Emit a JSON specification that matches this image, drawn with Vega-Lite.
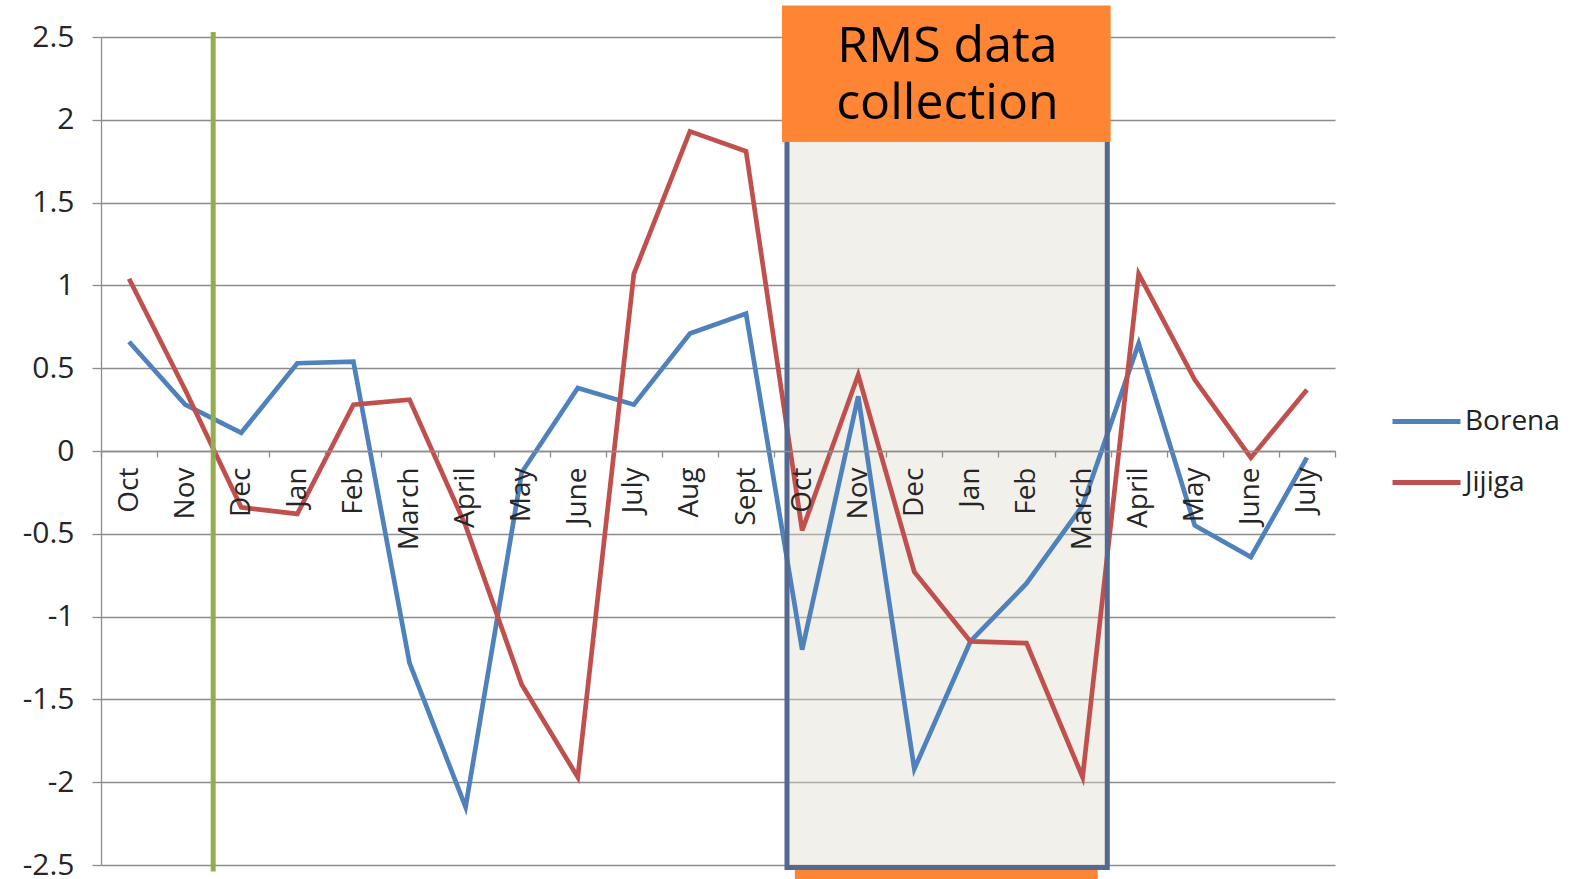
{
  "$schema": "https://vega.github.io/schema/vega-lite/v6.json",
  "width": 1234,
  "height": 828,
  "autosize": {"type": "none"},
  "padding": {"left": 101, "top": 37, "right": 236, "bottom": 14},
  "background": "white",
  "config": {"view": {"stroke": null}, "font": "Open Sans"},
  "datasets": {
    "one": [{"k": "annotation"}]
  },
  "layer": [
    {
      "data": {"name": "one"},
      "mark": {"type": "rect", "fill": "#DEDACA", "fillOpacity": 0.4, "strokeWidth": 0},
      "encoding": {
        "x": {"datum": "Oct-2", "bandPosition": 0.23, "type": "nominal", "scale": {"type": "band", "paddingInner": 0, "paddingOuter": 0}},
        "x2": {"datum": "March-2", "bandPosition": 0.94},
        "y": {"datum": 2.3, "type": "quantitative"},
        "y2": {"datum": -2.515}
      }
    },
    {
      "data": {"values": [
        {"m": "Oct-1", "s": "Borena", "v": 0.66}, {"m": "Nov-1", "s": "Borena", "v": 0.28}, {"m": "Dec-1", "s": "Borena", "v": 0.11},
        {"m": "Jan-1", "s": "Borena", "v": 0.53}, {"m": "Feb-1", "s": "Borena", "v": 0.54}, {"m": "March-1", "s": "Borena", "v": -1.28},
        {"m": "April-1", "s": "Borena", "v": -2.15}, {"m": "May-1", "s": "Borena", "v": -0.13}, {"m": "June-1", "s": "Borena", "v": 0.38},
        {"m": "July-1", "s": "Borena", "v": 0.28}, {"m": "Aug-1", "s": "Borena", "v": 0.71}, {"m": "Sept-1", "s": "Borena", "v": 0.83},
        {"m": "Oct-2", "s": "Borena", "v": -1.2}, {"m": "Nov-2", "s": "Borena", "v": 0.33}, {"m": "Dec-2", "s": "Borena", "v": -1.92},
        {"m": "Jan-2", "s": "Borena", "v": -1.15}, {"m": "Feb-2", "s": "Borena", "v": -0.8}, {"m": "March-2", "s": "Borena", "v": -0.33},
        {"m": "April-2", "s": "Borena", "v": 0.65}, {"m": "May-2", "s": "Borena", "v": -0.45}, {"m": "June-2", "s": "Borena", "v": -0.64},
        {"m": "July-2", "s": "Borena", "v": -0.04},
        {"m": "Oct-1", "s": "Jijiga", "v": 1.04}, {"m": "Nov-1", "s": "Jijiga", "v": 0.37}, {"m": "Dec-1", "s": "Jijiga", "v": -0.34},
        {"m": "Jan-1", "s": "Jijiga", "v": -0.38}, {"m": "Feb-1", "s": "Jijiga", "v": 0.28}, {"m": "March-1", "s": "Jijiga", "v": 0.31},
        {"m": "April-1", "s": "Jijiga", "v": -0.45}, {"m": "May-1", "s": "Jijiga", "v": -1.41}, {"m": "June-1", "s": "Jijiga", "v": -1.97},
        {"m": "July-1", "s": "Jijiga", "v": 1.07}, {"m": "Aug-1", "s": "Jijiga", "v": 1.93}, {"m": "Sept-1", "s": "Jijiga", "v": 1.81},
        {"m": "Oct-2", "s": "Jijiga", "v": -0.48}, {"m": "Nov-2", "s": "Jijiga", "v": 0.46}, {"m": "Dec-2", "s": "Jijiga", "v": -0.73},
        {"m": "Jan-2", "s": "Jijiga", "v": -1.15}, {"m": "Feb-2", "s": "Jijiga", "v": -1.16}, {"m": "March-2", "s": "Jijiga", "v": -1.97},
        {"m": "April-2", "s": "Jijiga", "v": 1.07}, {"m": "May-2", "s": "Jijiga", "v": 0.43}, {"m": "June-2", "s": "Jijiga", "v": -0.04},
        {"m": "July-2", "s": "Jijiga", "v": 0.37}
      ]},
      "mark": {"type": "line", "strokeWidth": 4.7},
      "encoding": {
        "x": {
          "field": "m", "type": "nominal", "bandPosition": 0.5,
          "scale": {"type": "band", "paddingInner": 0, "paddingOuter": 0,
            "domain": ["Oct-1","Nov-1","Dec-1","Jan-1","Feb-1","March-1","April-1","May-1","June-1","July-1","Aug-1","Sept-1","Oct-2","Nov-2","Dec-2","Jan-2","Feb-2","March-2","April-2","May-2","June-2","July-2"]},
          "axis": {
            "title": null, "orient": "bottom", "offset": -414,
            "labelExpr": "split(datum.label, '-')[0]",
            "labelAngle": -90, "labelFontSize": 28, "labelColor": "#262626", "labelPadding": 10,
            "tickBand": "extent", "tickSize": 6, "tickColor": "#8C8C8C", "tickWidth": 1.3,
            "domainColor": "#8C8C8C", "domainWidth": 1.3, "grid": false
          }
        },
        "y": {
          "field": "v", "type": "quantitative",
          "scale": {"domain": [-2.5, 2.5], "nice": false, "zero": false},
          "axis": {
            "title": null, "values": [-2.5, -2, -1.5, -1, -0.5, 0, 0.5, 1, 1.5, 2, 2.5],
            "labelExpr": "'' + datum.value", "labelFontSize": 30, "labelColor": "#262626", "labelPadding": 18,
            "grid": true, "gridColor": "#8C8C8C", "gridWidth": 1.3,
            "tickSize": 9, "tickColor": "#8C8C8C", "tickWidth": 1.3,
            "domainColor": "#8C8C8C", "domainWidth": 1.3
          }
        },
        "color": {
          "field": "s", "type": "nominal",
          "scale": {"domain": ["Borena", "Jijiga"], "range": ["#4F81BD", "#C0504D"]},
          "legend": {
            "title": null, "orient": "none", "legendX": 1289, "legendY": 348,
            "symbolType": "stroke", "symbolSize": 4624, "symbolStrokeWidth": 5,
            "labelFontSize": 28, "labelColor": "#222222", "labelOffset": 2, "rowPadding": 10
          }
        }
      }
    },
    {
      "data": {"name": "one"},
      "mark": {"type": "rect", "filled": false, "stroke": "#53698F", "strokeWidth": 5},
      "encoding": {
        "x": {"datum": "Oct-2", "bandPosition": 0.23, "type": "nominal"},
        "x2": {"datum": "March-2", "bandPosition": 0.94},
        "y": {"datum": 2.3, "type": "quantitative"},
        "y2": {"datum": -2.515}
      }
    },
    {
      "data": {"name": "one"},
      "mark": {"type": "rule", "stroke": "#92AE4E", "strokeWidth": 5},
      "encoding": {
        "x": {"datum": "Nov-1", "bandPosition": 1, "type": "nominal"},
        "y": {"datum": 2.53, "type": "quantitative"},
        "y2": {"datum": -2.54}
      }
    },
    {
      "data": {"name": "one"},
      "mark": {"type": "rect", "fill": "#FE8533", "strokeWidth": 0},
      "encoding": {
        "x": {"datum": "Oct-2", "bandPosition": 0.14, "type": "nominal"},
        "x2": {"datum": "March-2", "bandPosition": 1.0},
        "y": {"datum": 2.69, "type": "quantitative"},
        "y2": {"datum": 1.866}
      }
    },
    {
      "data": {"name": "one"},
      "mark": {"type": "text", "text": ["RMS data", "collection"], "font": "Open Sans", "fontSize": 50, "lineHeight": 57, "fill": "#000000", "align": "center", "baseline": "middle"},
      "encoding": {
        "x": {"datum": "Jan-2", "bandPosition": 0.09, "type": "nominal"},
        "y": {"datum": 2.44, "type": "quantitative"}
      }
    },
    {
      "data": {"name": "one"},
      "mark": {"type": "rect", "fill": "#FE8533", "strokeWidth": 0},
      "encoding": {
        "x": {"datum": "Oct-2", "bandPosition": 0.37, "type": "nominal"},
        "x2": {"datum": "March-2", "bandPosition": 0.77},
        "y": {"datum": -2.53, "type": "quantitative"},
        "y2": {"datum": -2.7}
      }
    }
  ]
}
